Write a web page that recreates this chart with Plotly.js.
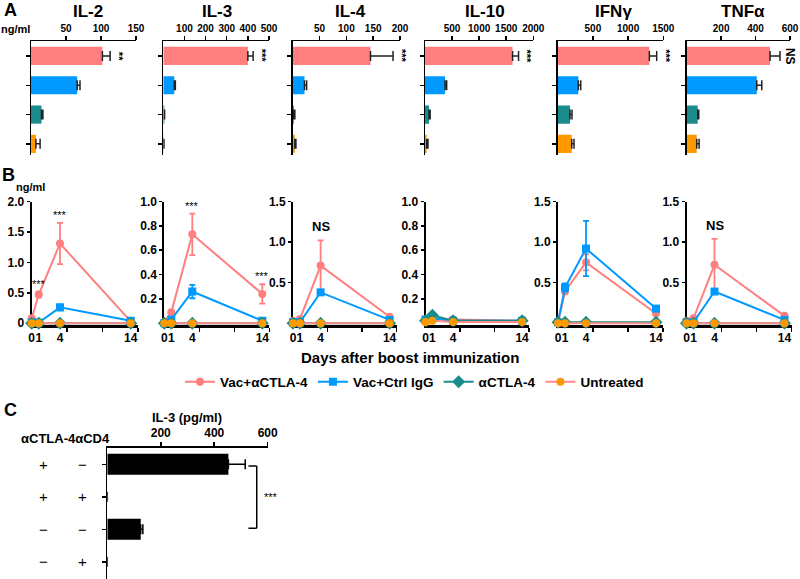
<!DOCTYPE html>
<html><head><meta charset="utf-8">
<script src="https://cdn.plot.ly/plotly-3.0.1.min.js"></script>
<style>html,body{margin:0;padding:0;background:#fff}#chart{width:800px;height:579px}</style>
</head><body><div id="chart"></div>
<script>
// ---------- DATA ----------
const cytokines = ['IL-2','IL-3','IL-4','IL-10','IFNγ','TNFα'];
const groups = ['Vac+αCTLA-4','Vac+Ctrl IgG','αCTLA-4','Untreated'];

// Panel A (ng/ml, bars)
const aVac    = [102, 400, 145, 1617, 1302, 484];
const aVacErr = [11, 25, 42, 110, 104, 58];
const aIgG    = [66, 52, 22, 370, 293, 407];
const aIgGErr = [4, 5, 4, 30, 34, 29];
const aCtla   = [15, 5, 2, 75, 175, 64];
const aCtlaErr= [2, 1, 2, 20, 28, 6];
const aUnt    = [7, 2, 4, 30, 199, 58];
const aUntErr = [6, 1, 2, 25, 33, 14];
const aSig    = ['**','***','***','***','***','NS'];
const aMax    = [150, 500, 200, 2000, 1500, 600];
const aTicks  = [[50,100,150],[100,200,300,400,500],[50,100,150,200],[500,1000,1500,2000],[500,1000,1500],[200,400,600]];

// Panel B (ng/ml, time course)
const days = [0, 1, 4, 14];
const bVac     = [[0.08,0.47,1.31,0.03],[0.01,0.09,0.73,0.24],[0.03,0.05,0.71,0.08],[0.01,0.03,0.03,0.02],[0.01,0.39,0.75,0.12],[0.03,0.06,0.72,0.09]];
const bVacErr  = [[0.02,0.05,0.34,0.01],[0.0,0.01,0.17,0.08],[0.01,0.01,0.31,0.01],[0.0,0.01,0.01,0.0],[0.0,0.03,0.10,0.01],[0.01,0.01,0.32,0.01]];
const bIgG     = [[0.01,0.01,0.26,0.04],[0.0,0.03,0.26,0.02],[0.01,0.01,0.38,0.04],[0.03,0.04,0.02,0.02],[0.01,0.44,0.92,0.18],[0.01,0.01,0.39,0.04]];
const bIgGErr  = [[0.0,0.0,0.05,0.01],[0.0,0.01,0.055,0.005],[0.0,0.0,0.02,0.01],[0.0,0.01,0.0,0.0],[0.0,0.05,0.34,0.03],[0.0,0.0,0.02,0.01]];
const bCtla    = [[0,0,0,0],[0,0,0,0],[0,0,0,0],[0.02,0.065,0.02,0.02],[0.01,0.01,0.01,0.01],[0,0,0,0]];
const bUnt     = [[0,0,0,0],[0,0,0,0],[0,0,0,0],[0.01,0.02,0.01,0.01],[0,0,0,0],[0,0,0,0]];
const bSig     = [['','***','***',''],['','','***','***'],['','','NS',''],['','','',''],['','','',''],['','','NS','']];
const bMax     = [2, 1, 1.5, 1, 1.5, 1.5];
const bYTicks  = [[0,0.5,1,1.5,2],[0.2,0.4,0.6,0.8,1.0],[0.5,1,1.5],[0.2,0.4,0.6,0.8,1.0],[0.5,1,1.5],[0.5,1,1.5]];

// Panel C (IL-3 pg/ml)
const cVals = [453, 0, 125, 0];
const cErr  = [63, 0, 8, 0];
const cCTLA = ['+','+','−','−'];
const cCD4  = ['−','+','−','+'];
const cTicks = [200, 400, 600];

// ---------- STYLE / LAYOUT ----------
const W=800, H=579;
const px = x => x/W, py = y => 1 - y/H;
const FONT = 'Arial, "Liberation Sans", sans-serif';
const col = ['#FF7F7F', '#0099FF', '#1A8C8C', '#FF9900'];
const lineCol = ['#FF7F7F', '#0099FF', '#1A8C8C', '#FF8A8A'];
const sym = ['circle', 'square', 'diamond', 'circle'];

const data = [];
const annotations = [];
const shapes = [];
const layout = {
  width: W, height: H, margin: {l:0, r:0, t:0, b:0},
  paper_bgcolor: '#fff', plot_bgcolor: 'rgba(0,0,0,0)',
  font: {family: FONT, color: '#000'},
  showlegend: true,
  legend: {orientation: 'h', x: px(180), y: py(382), xanchor: 'left', yanchor: 'middle',
           font: {size: 13.5, weight: 'bold', family: FONT}, bgcolor: 'rgba(0,0,0,0)', traceorder: 'normal'},
  annotations: annotations, shapes: shapes
};
const ax = k => (k === 1 ? '' : String(k));

function txt(x, y, text, size, opts) {
  annotations.push(Object.assign({xref: 'paper', yref: 'paper', x: px(x), y: py(y), text: text,
    showarrow: false, xanchor: 'center', yanchor: 'middle',
    font: {family: FONT, size: size, weight: 'bold', color: '#000'}}, opts || {}));
}

// ----- Panel A -----
const aDom = [[31,136],[163.3,269],[292.7,400],[425,533.3],[557.7,663.3],[686.7,790]];
const aTitleX = [88, 217, 350, 485, 613, 743];
for (let i = 0; i < 6; i++) {
  const k = i + 1, xr = 'x' + ax(k), yr = 'y' + ax(k);
  const vals = [aVac[i], aIgG[i], aCtla[i], aUnt[i]];
  const errs = [aVacErr[i], aIgGErr[i], aCtlaErr[i], aUntErr[i]];
  data.push({type: 'bar', orientation: 'h', x: vals, y: [0,1,2,3], xaxis: xr, yaxis: yr,
    width: 0.62, marker: {color: col, line: {width: 0}},
    error_x: {type: 'data', array: errs, arrayminus: [0,0,0,0], symmetric: false, color: '#222', thickness: 1.5, width: 5},
    showlegend: false, hoverinfo: 'skip'});
  layout['xaxis' + ax(k)] = {domain: [px(aDom[i][0]), px(aDom[i][1])], anchor: yr, side: 'top',
    range: [0, aMax[i]], tickmode: 'array', tickvals: aTicks[i], tickangle: 0,
    ticks: 'outside', ticklen: 4, tickwidth: 1.5, tickcolor: '#000',
    showline: true, linewidth: 1.5, linecolor: '#000', showgrid: false, zeroline: false,
    tickfont: {size: 10, weight: 'bold', family: FONT}, fixedrange: true};
  layout['yaxis' + ax(k)] = {domain: [py(155), py(41)], anchor: xr, range: [3.38, -0.51],
    tickmode: 'array', tickvals: [0,1,2,3], showticklabels: false,
    ticks: 'outside', ticklen: 4, tickwidth: 1.5, tickcolor: '#000',
    showline: true, linewidth: 1.5, linecolor: '#000', showgrid: false, zeroline: false, fixedrange: true};
  annotations.push({xref: xr, yref: yr, x: aVac[i] + aVacErr[i], y: 0, text: aSig[i], textangle: 90,
    xanchor: 'left', yanchor: 'middle', xshift: 1, showarrow: false,
    font: {family: FONT, size: aSig[i] === 'NS' ? 12 : 11, weight: 'bold'}});
  txt(aTitleX[i], 12, cytokines[i], 17);
}
txt(10, 10, 'A', 18);
txt(15, 29, 'ng/ml', 11);

// ----- Panel B -----
const bDom = [[31.7,137.8],[164.3,269.3],[293,396.5],[425.5,529],[558,663],[686.5,791.5]];
const bYVals = [bVac, bIgG, bCtla, bUnt];
const bYErr = [bVacErr, bIgGErr, null, null];
for (let i = 0; i < 6; i++) {
  const k = i + 7, xr = 'x' + ax(k), yr = 'y' + ax(k);
  for (let g = 0; g < 4; g++) {
    const tr = {type: 'scatter', mode: 'lines+markers', x: days, y: bYVals[g][i], xaxis: xr, yaxis: yr,
      name: groups[g], legendgroup: groups[g], showlegend: i === 0, cliponaxis: false,
      line: {color: lineCol[g], width: 2},
      marker: {color: col[g], symbol: sym[g], size: g === 2 ? 10 : 8},
      hoverinfo: 'skip'};
    if (bYErr[g]) tr.error_y = {type: 'data', array: bYErr[g][i], visible: true, color: col[g], thickness: 1.8, width: 3};
    data.push(tr);
  }
  const m = bMax[i];
  layout['xaxis' + ax(k)] = {domain: [px(bDom[i][0]), px(bDom[i][1])], anchor: yr,
    range: [0, 15], tickmode: 'array', tickvals: days, ticktext: days.map(String), tickangle: 0,
    ticks: '', minor: {tickmode: 'array', tickvals: [5, 10, 15], ticks: 'outside', ticklen: 4, tickwidth: 1.5, tickcolor: '#000', showgrid: false},
    showline: true, linewidth: 2.5, linecolor: '#000', showgrid: false, zeroline: false, layer: 'below traces',
    tickfont: {size: 12, weight: 'bold', family: FONT}, fixedrange: true};
  layout['yaxis' + ax(k)] = {domain: [py(325), py(201.5)], anchor: xr,
    range: [-0.015 * m, m], tickmode: 'array', tickvals: bYTicks[i],
    ticktext: bYTicks[i].map(v => v === 0 ? '0' : v.toFixed(1)),
    ticks: 'outside', ticklen: 3, tickwidth: 1.5, tickcolor: '#000',
    showline: true, linewidth: 2, linecolor: '#000', showgrid: false, zeroline: false, layer: 'below traces',
    tickfont: {size: 12, weight: 'bold', family: FONT}, fixedrange: true};
  for (let d = 0; d < days.length; d++) {
    if (!bSig[i][d]) continue;
    const top = Math.max(bVac[i][d] + bVacErr[i][d], bIgG[i][d] + bIgGErr[i][d]);
    const isNS = bSig[i][d] === 'NS';
    annotations.push({xref: xr, yref: yr, x: days[d], y: top, text: bSig[i][d], showarrow: false,
      xanchor: 'center', yanchor: 'bottom', yshift: isNS ? 4 : 0,
      font: {family: FONT, size: isNS ? 13 : 11, weight: isNS ? 'bold' : 'normal'}});
  }
}
txt(8, 175, 'B', 18);
txt(30, 187, 'ng/ml', 11);
txt(410, 357, 'Days after boost immunization', 15);

// ----- Panel C -----
data.push({type: 'bar', orientation: 'h', x: cVals, y: [0,1,2,3], xaxis: 'x13', yaxis: 'y13',
  width: 0.65, marker: {color: '#000'},
  error_x: {type: 'data', array: cErr, arrayminus: [0,0,0,0], symmetric: false, color: '#000', thickness: 1.5, width: 5},
  showlegend: false, hoverinfo: 'skip'});
layout.xaxis13 = {domain: [px(107.3), px(267.7)], anchor: 'y13', side: 'top', range: [0, 600],
  tickmode: 'array', tickvals: cTicks, tickangle: 0, ticks: 'outside', ticklen: 4, tickwidth: 1.5, tickcolor: '#000',
  showline: true, linewidth: 1.5, linecolor: '#000', showgrid: false, zeroline: false,
  tickfont: {size: 12, weight: 'bold', family: FONT}, fixedrange: true};
layout.yaxis13 = {domain: [0, py(447.7)], anchor: 'x13', range: [3.53, -0.51],
  tickmode: 'array', tickvals: [0,1,2,3], showticklabels: false,
  ticks: 'outside', ticklen: 4, tickwidth: 1.5, tickcolor: '#000',
  showline: true, linewidth: 1.5, linecolor: '#000', showgrid: false, zeroline: false, fixedrange: true};
for (let r = 0; r < 4; r++) {
  annotations.push({xref: 'paper', yref: 'y13', x: px(43), y: r, text: cCTLA[r], showarrow: false,
    xanchor: 'center', yanchor: 'middle', font: {family: FONT, size: 15, color: '#000'}});
  annotations.push({xref: 'paper', yref: 'y13', x: px(82), y: r, text: cCD4[r], showarrow: false,
    xanchor: 'center', yanchor: 'middle', font: {family: FONT, size: 15, color: '#000'}});
}
// significance bracket between rows 0 and 2
const brArm = cVals[0] + cErr[0] + 12, brX = brArm + 31;
const brLine = {color: '#000', width: 1.5};
shapes.push({type: 'line', xref: 'x13', yref: 'y13', x0: brX, x1: brX, y0: 0.05, y1: 1.97, line: brLine});
shapes.push({type: 'line', xref: 'x13', yref: 'y13', x0: brArm, x1: brX, y0: 0.05, y1: 0.05, line: brLine});
shapes.push({type: 'line', xref: 'x13', yref: 'y13', x0: brArm, x1: brX, y0: 1.97, y1: 1.97, line: brLine});
annotations.push({xref: 'x13', yref: 'y13', x: brX, y: 1, text: '***', showarrow: false,
  xanchor: 'left', yanchor: 'middle', xshift: 5, font: {family: FONT, size: 11}});
txt(10, 410, 'C', 18);
txt(187, 417, 'IL-3 (pg/ml)', 13);
txt(65, 438, 'αCTLA-4αCD4', 13);

Plotly.newPlot('chart', data, layout, {staticPlot: true, displayModeBar: false});
</script>
</body></html>
